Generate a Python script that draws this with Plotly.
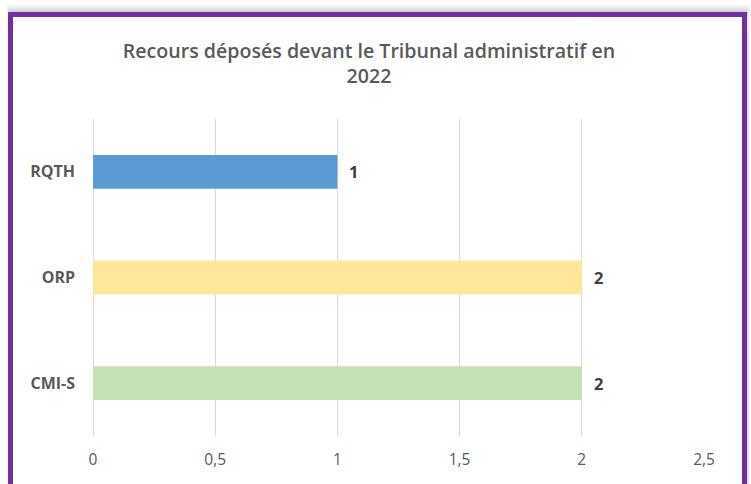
import plotly.graph_objects as go

categories = ["CMI-S", "ORP", "RQTH"]
values = [2, 2, 1]
bar_colors = ["#C5E0B4", "#FFE699", "#5B9BD5"]
tick_vals = [0, 0.5, 1, 1.5, 2, 2.5]
tick_text = ["0", "0,5", "1", "1,5", "2", "2,5"]
title_text = "Recours déposés devant le Tribunal administratif en<br>2022"

W, H = 751, 484

def px(x):
    return x / W

def py(y):
    return 1 - y / H

fig = go.Figure()
fig.add_trace(go.Bar(
    x=values, y=categories, orientation="h",
    marker=dict(color=bar_colors, line=dict(width=0)),
    width=0.32,
    hoverinfo="skip",
))

for v, c in zip(values, categories):
    fig.add_annotation(x=v, y=c, xref="x", yref="y", text=str(v),
                       showarrow=False, xanchor="left", yanchor="middle", xshift=10,
                       font=dict(family="Open Sans", size=16.5, color="#404040", weight="bold"))

shapes = []
# soft shadow around frame
for i, op in enumerate([0.03, 0.04, 0.05, 0.06, 0.07]):
    off = 10 - 2 * i
    shapes.append(dict(type="rect", xref="paper", yref="paper",
                       x0=px(10.5 - off * 0.4), x1=px(744.5 + off * 0.6),
                       y0=py(490), y1=py(14.5 - off),
                       line=dict(width=0), fillcolor=f"rgba(0,0,0,{op})", layer="below"))
shapes.append(dict(type="rect", xref="paper", yref="paper",
                   x0=px(10.5), x1=px(744.5), y0=py(495), y1=py(14.5),
                   line=dict(color="#7030A0", width=5), fillcolor="white", layer="below"))

fig.update_layout(
    width=W, height=H,
    margin=dict(l=0, r=0, t=0, b=0, autoexpand=False),
    paper_bgcolor="white", plot_bgcolor="rgba(0,0,0,0)",
    showlegend=False,
    shapes=shapes,
    title=dict(text=title_text, x=px(369), xanchor="center", y=py(57.5), yanchor="middle",
               font=dict(family="Open Sans", size=19.6, color="#595959", weight=600)),
    xaxis=dict(domain=[px(93), px(704)], range=[0, 2.5], automargin=False,
               tickvals=tick_vals, ticktext=tick_text,
               showgrid=True, gridcolor="#D9D9D9", gridwidth=1,
               zeroline=True, zerolinecolor="#D9D9D9", zerolinewidth=1,
               showline=False, ticks="", ticklabelstandoff=12,
               tickfont=dict(family="Open Sans", size=15.5, color="#595959"),
               fixedrange=True),
    yaxis=dict(domain=[py(436), py(119)], range=[-0.5, 2.5], automargin=False,
               categoryorder="array", categoryarray=categories,
               showgrid=False, zeroline=False, showline=False, ticks="",
               ticklabelstandoff=17,
               tickfont=dict(family="Open Sans", size=16, color="#595959", weight="bold"),
               fixedrange=True),
)

fig.write_html("out.html", config={"displayModeBar": False},
               post_script="document.body.style.margin='0';document.body.style.overflow='hidden';")
